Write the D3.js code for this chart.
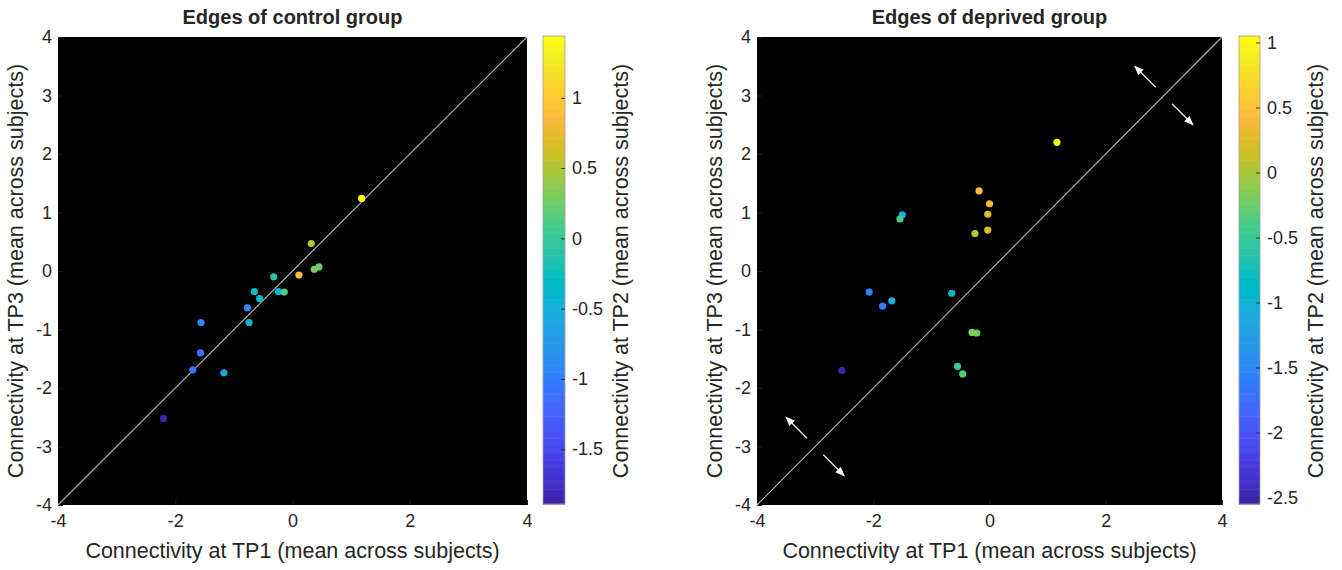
<!DOCTYPE html>
<html><head><meta charset="utf-8">
<script src="https://cdn.jsdelivr.net/npm/d3@7"></script>
<style>
body{margin:0;background:#fff;}
svg text{font-family:"Liberation Sans",Arial,sans-serif;fill:#262626;}
</style></head>
<body><svg id="c" width="1342" height="570"></svg>
<script>
// ---- data ----
const ticksX = [-4,-2,0,2,4];
const ticksY = [-4,-3,-2,-1,0,1,2,3,4];
const controlTP1 = [1.18,0.32,0.37,0.45,0.11,-0.32,-0.24,-0.14,-0.65,-0.56,-0.77,-0.74,-1.56,-1.57,-1.70,-1.17,-2.20];
const controlTP3 = [1.24,0.47,0.03,0.07,-0.07,-0.10,-0.35,-0.36,-0.35,-0.47,-0.63,-0.88,-0.88,-1.40,-1.69,-1.74,-2.52];
const controlTP2 = [1.44,0.51,0.31,0.24,0.91,-0.16,-0.42,0.11,-0.29,-0.30,-0.89,-0.39,-0.92,-1.12,-1.15,-0.62,-1.89];
const controlCbTicks = [1,0.5,0,-0.5,-1,-1.5];
const deprivedTP1 = [-0.18,0.00,-0.03,-0.03,-0.25,-1.50,-1.54,-2.07,-1.84,-1.68,-0.65,-0.30,-0.22,-0.55,-0.46,-2.54,1.16];
const deprivedTP3 = [1.37,1.15,0.97,0.70,0.64,0.96,0.89,-0.36,-0.60,-0.51,-0.38,-1.05,-1.06,-1.63,-1.76,-1.70,2.20];
const deprivedTP2 = [0.47,0.33,0.26,0.26,0.04,-0.93,-0.39,-1.54,-1.61,-1.04,-0.86,-0.14,-0.20,-0.50,-0.35,-2.55,1.05];
const deprivedCbTicks = [1,0.5,0,-0.5,-1,-1.5,-2,-2.5];
const titles = ["Edges of control group","Edges of deprived group"];
const xLabel = "Connectivity at TP1 (mean across subjects)";
const yLabel = "Connectivity at TP3 (mean across subjects)";
const cLabel = "Connectivity at TP2 (mean across subjects)";

// parula colormap (64 entries)
const parula = [[0.2422,0.1504,0.6603],[0.2504,0.1650,0.7076],[0.2578,0.1818,0.7511],[0.2647,0.1978,0.7952],[0.2706,0.2147,0.8364],[0.2751,0.2342,0.8710],[0.2783,0.2559,0.8991],[0.2803,0.2782,0.9221],[0.2813,0.3006,0.9414],[0.2810,0.3228,0.9579],[0.2795,0.3447,0.9717],[0.2760,0.3667,0.9829],[0.2699,0.3892,0.9906],[0.2602,0.4123,0.9952],[0.2440,0.4358,0.9988],[0.2206,0.4603,0.9973],[0.1963,0.4847,0.9892],[0.1834,0.5074,0.9798],[0.1786,0.5289,0.9682],[0.1764,0.5499,0.9520],[0.1687,0.5703,0.9359],[0.1540,0.5902,0.9218],[0.1460,0.6091,0.9079],[0.1380,0.6276,0.8973],[0.1248,0.6459,0.8883],[0.1113,0.6635,0.8763],[0.0952,0.6798,0.8598],[0.0689,0.6948,0.8394],[0.0297,0.7082,0.8163],[0.0036,0.7203,0.7917],[0.0067,0.7312,0.7660],[0.0433,0.7411,0.7394],[0.0964,0.7500,0.7120],[0.1408,0.7584,0.6842],[0.1717,0.7670,0.6554],[0.1938,0.7758,0.6251],[0.2161,0.7843,0.5923],[0.2470,0.7918,0.5567],[0.2906,0.7973,0.5188],[0.3406,0.8008,0.4789],[0.3909,0.8029,0.4354],[0.4456,0.8024,0.3909],[0.5044,0.7993,0.3480],[0.5616,0.7942,0.3045],[0.6174,0.7876,0.2612],[0.6720,0.7793,0.2227],[0.7242,0.7698,0.1910],[0.7738,0.7598,0.1646],[0.8203,0.7498,0.1535],[0.8634,0.7406,0.1596],[0.9035,0.7330,0.1774],[0.9393,0.7288,0.2100],[0.9728,0.7298,0.2394],[0.9956,0.7434,0.2371],[0.9970,0.7659,0.2199],[0.9952,0.7893,0.2028],[0.9892,0.8136,0.1885],[0.9786,0.8386,0.1766],[0.9676,0.8639,0.1643],[0.9610,0.8890,0.1537],[0.9597,0.9135,0.1423],[0.9628,0.9373,0.1265],[0.9691,0.9606,0.1064],[0.9769,0.9839,0.0805]];
const parulaHex = parula.map(c=>d3.rgb(c[0]*255,c[1]*255,c[2]*255).formatHex());
function cmapFor(domain){
  return d3.scaleQuantize().domain(domain).range(parulaHex);
}
const fmt = d => String(d);   // plain hyphen-minus like MATLAB
const FONT = '"Liberation Sans",Arial,sans-serif';

const svg = d3.select("#c");
const defs = svg.append("defs");
defs.append("marker").attr("id","ah").attr("viewBox","0 0 10 10").attr("refX",9).attr("refY",5)
  .attr("markerWidth",7.5).attr("markerHeight",7.5).attr("orient","auto")
  .append("path").attr("d","M0,1 L10,5 L0,9 Z").attr("fill","#f2f2f2");

function panel(cfg){
  const x = d3.scaleLinear().domain([-4,4]).range([cfg.x0,cfg.x1]);
  const y = d3.scaleLinear().domain([-4,4]).range([cfg.y1,cfg.y0]);
  const g = svg.append("g");
  g.append("rect").attr("x",cfg.x0).attr("y",cfg.y0).attr("width",cfg.x1-cfg.x0).attr("height",cfg.y1-cfg.y0).attr("fill","#000");
  // axes
  const ax = g.append("g").attr("transform",`translate(0,${cfg.y1})`)
    .call(d3.axisBottom(x).tickValues(ticksX).tickSize(-5).tickPadding(9).tickFormat(fmt));
  const ay = g.append("g").attr("transform",`translate(${cfg.x0},0)`)
    .call(d3.axisLeft(y).tickValues(ticksY).tickSize(-5).tickPadding(6).tickFormat(fmt));
  [ax,ay].forEach(a=>{
    a.select(".domain").remove();
    a.selectAll("line").attr("stroke","#1c1c1c");
    a.selectAll("text").attr("font-size",18).attr("fill","#262626").attr("font-family",FONT);
  });
  ax.selectAll("text").attr("dy","0.71em");
  // diagonal
  g.append("line").attr("x1",x(-4)).attr("y1",y(-4)).attr("x2",x(4)).attr("y2",y(4))
    .attr("stroke","#b4b4b4").attr("stroke-width",1.1);
  // arrows
  if(cfg.arrows){
    cfg.arrows.forEach(c=>{
      [[-1,1],[1,-1]].forEach(s=>{
        g.append("line").attr("x1",x(c+s[0]*0.14)).attr("y1",y(c+s[1]*0.14))
          .attr("x2",x(c+s[0]*0.5)).attr("y2",y(c+s[1]*0.5))
          .attr("stroke","#e8e8e8").attr("stroke-width",1.3).attr("marker-end","url(#ah)");
      });
    });
  }
  const cs = cmapFor(cfg.cdom);
  g.selectAll("circle.pt").data(cfg.xs.map((v,i)=>({x:v,y:cfg.ys[i],c:cfg.cs[i]}))).join("circle")
    .attr("class","pt").attr("cx",d=>x(d.x)).attr("cy",d=>y(d.y)).attr("r",3.6)
    .attr("fill",d=>cs(d.c));
  // title
  g.append("text").attr("x",(cfg.x0+cfg.x1)/2).attr("y",24).attr("text-anchor","middle")
    .attr("font-size",20).attr("font-weight","bold").attr("fill","#111").text(cfg.title);
  g.append("text").attr("x",(cfg.x0+cfg.x1)/2).attr("y",558).attr("text-anchor","middle")
    .attr("font-size",21.5).text(xLabel);
  g.append("text").attr("transform",`translate(${cfg.x0-35},${(cfg.y0+cfg.y1)/2}) rotate(-90)`).attr("text-anchor","middle")
    .attr("font-size",21.5).text(yLabel);
  // colorbar
  const cy = d3.scaleLinear().domain(cfg.cdom).range([cfg.y1-1,cfg.y0-1]);
  const n = parulaHex.length, step = (cfg.cdom[1]-cfg.cdom[0])/n;
  const cb = g.append("g");
  cb.selectAll("rect.band").data(parulaHex).join("rect").attr("class","band")
    .attr("x",cfg.cbx0).attr("width",cfg.cbx1-cfg.cbx0)
    .attr("y",(d,i)=>cy(cfg.cdom[0]+(i+1)*step)).attr("height",(d,i)=>cy(cfg.cdom[0]+i*step)-cy(cfg.cdom[0]+(i+1)*step)+0.5)
    .attr("fill",d=>d);
  cb.append("rect").attr("x",cfg.cbx0).attr("y",cy(cfg.cdom[1])).attr("width",cfg.cbx1-cfg.cbx0)
    .attr("height",cy(cfg.cdom[0])-cy(cfg.cdom[1])).attr("fill","none").attr("stroke","#a0a0a0").attr("stroke-width",0.8);
  const ac = cb.append("g").attr("transform",`translate(${cfg.cbx1},0)`)
    .call(d3.axisRight(cy).tickValues(cfg.cticks).tickSize(-4).tickPadding(7).tickFormat(fmt));
  ac.select(".domain").remove();
  ac.selectAll("line").attr("stroke","#333");
  ac.selectAll("text").attr("font-size",18).attr("fill","#262626").attr("font-family",FONT);
  g.append("text").attr("transform",`translate(${cfg.cbx1+63},${(cfg.y0+cfg.y1)/2}) rotate(-90)`).attr("text-anchor","middle")
    .attr("font-size",21.5).text(cLabel);
}

panel({x0:58,x1:527,y0:37,y1:505,cbx0:543,cbx1:565,title:titles[0],
  xs:controlTP1,ys:controlTP3,cs:controlTP2,cdom:[-1.89,1.44],cticks:controlCbTicks});
panel({x0:757,x1:1222,y0:37,y1:505,cbx0:1239,cbx1:1260,title:titles[1],
  xs:deprivedTP1,ys:deprivedTP3,cs:deprivedTP2,cdom:[-2.55,1.05],cticks:deprivedCbTicks,arrows:[-3,3]});
</script></body></html>
